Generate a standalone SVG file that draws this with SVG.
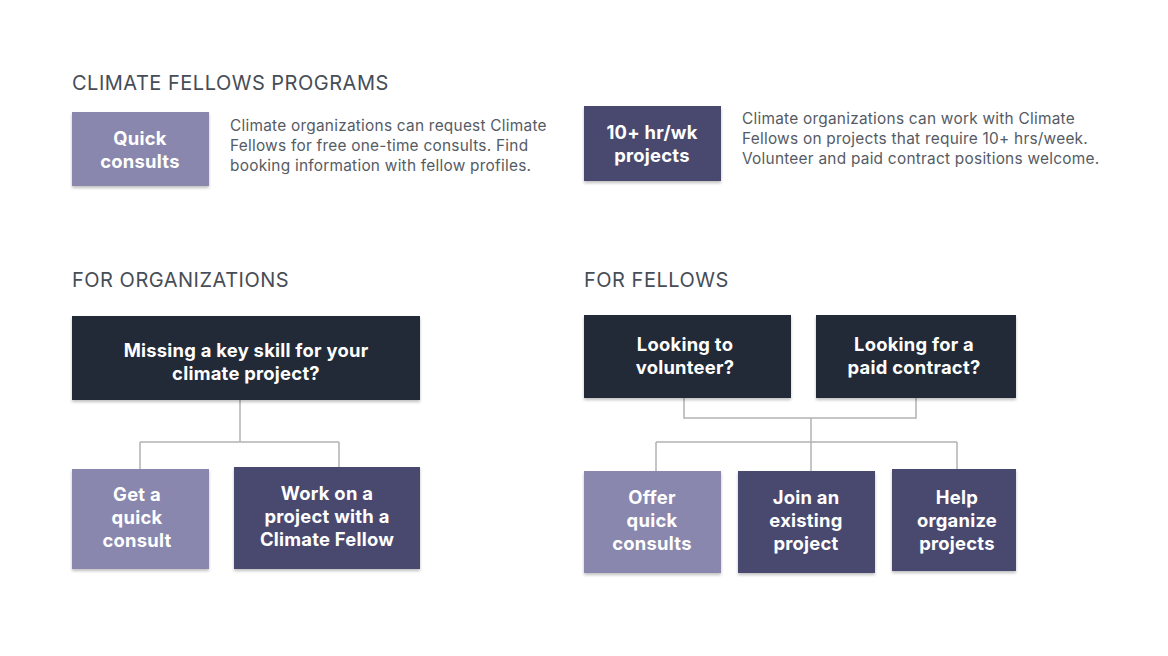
<svg xmlns="http://www.w3.org/2000/svg" width="1168" height="656" viewBox="0 0 1168 656">
<defs>
<filter id="sh" x="-10%" y="-10%" width="120%" height="130%">
<feDropShadow dx="0" dy="2" stdDeviation="1.5" flood-color="#000" flood-opacity="0.25"/>
</filter>
<style>
.h{font-family:Inter,"Liberation Sans",sans-serif;font-size:20px;fill:#474d56;font-weight:400;letter-spacing:0.5px}
.d{font-family:Inter,"Liberation Sans",sans-serif;font-size:15.4px;fill:#555b64;letter-spacing:0.25px}
.t{font-family:Inter,"Liberation Sans",sans-serif;font-size:18.4px;font-weight:700;fill:#fff;text-anchor:middle;letter-spacing:0.25px}
.dk{fill:#222a37}
.md{fill:#4a4870}
.lt{fill:#8987ae}
.c{fill:none;stroke:#b3b3b3;stroke-width:1.5}
</style>
</defs>
<rect width="1168" height="656" fill="#fff"/>
<text class="h" x="72" y="90">CLIMATE FELLOWS PROGRAMS</text>
<text class="h" x="72" y="287">FOR ORGANIZATIONS</text>
<text class="h" x="584" y="287">FOR FELLOWS</text>

<g id="desc1"><text class="d" x="230" y="131">Climate organizations can request Climate</text><text class="d" x="230" y="151">Fellows for free one-time consults. Find</text><text class="d" x="230" y="171">booking information with fellow profiles.</text></g>
<g id="desc2"><text class="d" x="742" y="124">Climate organizations can work with Climate</text><text class="d" x="742" y="144">Fellows on projects that require 10+ hrs/week.</text><text class="d" x="742" y="164">Volunteer and paid contract positions welcome.</text></g>

<g id="connectors">
<path class="c" d="M240 400 V442 M140 442 H339 M140 442 V469 M339 442 V467"/>
<path class="c" d="M684 398 V418 H916 V398 M811 418 V471 M656 442 H957 M656 442 V471 M957 442 V469"/>
</g>

<g id="quick"><rect class="lt" x="72" y="112" width="137" height="74" filter="url(#sh)"/><text class="t" x="140" y="145">Quick</text><text class="t" x="140" y="168">consults</text></g>
<g id="tenplus"><rect class="md" x="584" y="106" width="137" height="75" filter="url(#sh)"/><text class="t" x="652" y="139">10+ hr/wk</text><text class="t" x="652" y="162">projects</text></g>

<g id="missing"><rect class="dk" x="72" y="316" width="348" height="84" filter="url(#sh)"/><text class="t" x="246" y="357">Missing a key skill for your</text><text class="t" x="246" y="380">climate project?</text></g>
<g id="getquick"><rect class="lt" x="72" y="469" width="137" height="100" filter="url(#sh)"/><text class="t" x="137" y="501">Get a</text><text class="t" x="137" y="524">quick</text><text class="t" x="137" y="547">consult</text></g>
<g id="workon"><rect class="md" x="234" y="467" width="186" height="102" filter="url(#sh)"/><text class="t" x="327" y="500">Work on a</text><text class="t" x="327" y="523">project with a</text><text class="t" x="327" y="546">Climate Fellow</text></g>

<g id="volunteer"><rect class="dk" x="584" y="315" width="207" height="83" filter="url(#sh)"/><text class="t" x="685" y="351">Looking to</text><text class="t" x="685" y="374">volunteer?</text></g>
<g id="paid"><rect class="dk" x="816" y="315" width="200" height="83" filter="url(#sh)"/><text class="t" x="914" y="351">Looking for a</text><text class="t" x="914" y="374">paid contract?</text></g>
<g id="offer"><rect class="lt" x="584" y="471" width="137" height="102" filter="url(#sh)"/><text class="t" x="652" y="504">Offer</text><text class="t" x="652" y="527">quick</text><text class="t" x="652" y="550">consults</text></g>
<g id="join"><rect class="md" x="738" y="471" width="137" height="102" filter="url(#sh)"/><text class="t" x="806" y="504">Join an</text><text class="t" x="806" y="527">existing</text><text class="t" x="806" y="550">project</text></g>
<g id="help"><rect class="md" x="892" y="469" width="124" height="102" filter="url(#sh)"/><text class="t" x="957" y="504">Help</text><text class="t" x="957" y="527">organize</text><text class="t" x="957" y="550">projects</text></g>
</svg>
